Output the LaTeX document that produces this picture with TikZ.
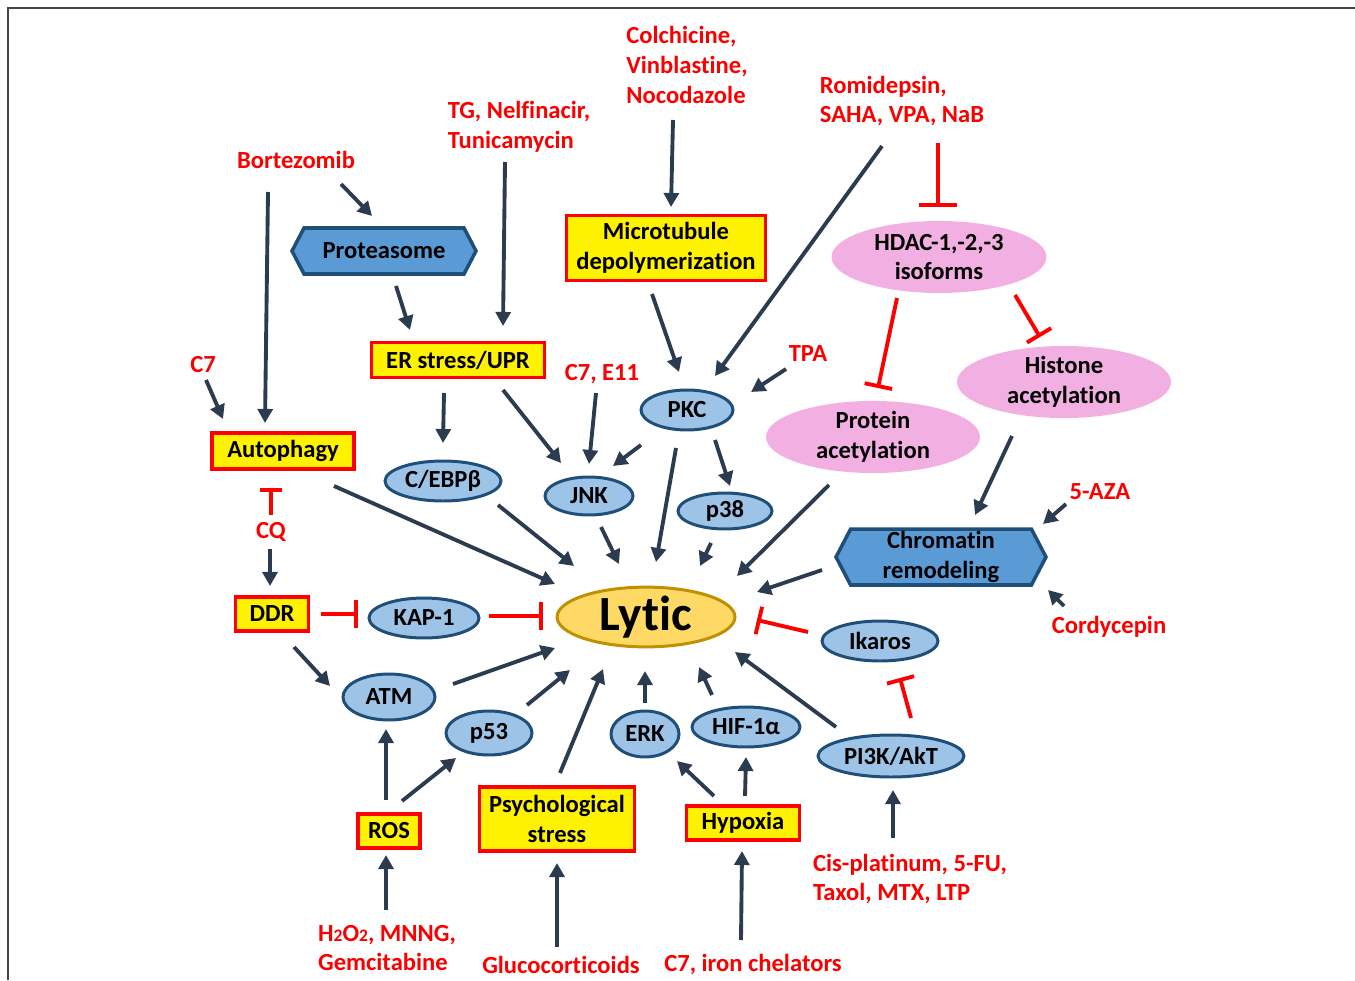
\documentclass[tikz,border=0pt]{standalone}
\usepackage{fontspec}
\setmainfont{Carlito}[Ligatures=NoCommon]
\usetikzlibrary{arrows.meta,shapes.geometric,shapes.symbols,calc}
\definecolor{navy}{RGB}{44,60,80}
\definecolor{drugred}{RGB}{250,0,0}
\definecolor{molfill}{RGB}{157,195,230}
\definecolor{molline}{RGB}{31,78,121}
\definecolor{hexfill}{RGB}{91,155,213}
\definecolor{acetfill}{RGB}{242,176,226}
\definecolor{lyticfill}{RGB}{255,217,102}
\definecolor{lyticline}{RGB}{191,144,0}
\definecolor{framegray}{RGB}{70,70,70}
\newcommand{\labfont}{\fontsize{14}{17}\selectfont\bfseries}
\newcommand{\smalltwo}{{\fontsize{10}{12}\selectfont 2}}

\tikzset{
  arr/.style={draw=navy, line width=2.2pt, -{Triangle[length=8pt,width=8.5pt]}},
  inh/.style={draw=red, line width=2.2pt, -{Bar[width=#1]}},
  inh/.default=16pt,
  drug/.style={text=drugred, font=\labfont, align=left, inner sep=0pt},
  cond/.style={rectangle, draw=red, fill=yellow, line width=2pt, inner sep=0pt, align=center, font=\labfont},
  mol/.style={ellipse, draw=molline, fill=molfill, line width=1.7pt, inner sep=0pt, font=\labfont},
  acet/.style={ellipse, fill=acetfill, inner sep=0pt, align=center, font=\labfont},
  hexa/.style={signal, signal to=west and east, signal pointer angle=125, draw=molline, fill=hexfill,
    line width=2pt, inner sep=0pt, align=center, font=\labfont}
}

\begin{document}
\begin{tikzpicture}[x=0.02cm, y=-0.02cm]
  \useasboundingbox (0,0) rectangle (1355,980);
  \draw[framegray, line width=0.9pt] (8,980) -- (8,8) -- (1355,8);

  % drugs and stimuli
  \node[drug] (bort) at (296,160) {Bortezomib};
  \node[drug] (tg) at (519,127) {TG, Nelfinacir,\\Tunicamycin};
  \node[drug] (colch) at (687,65) {Colchicine,\\Vinblastine,\\Nocodazole};
  \node[drug] (romi) at (902,101) {Romidepsin,\\SAHA, VPA, NaB};
  \node[drug] (c7auto) at (203,365) {C7};
  \node[drug] (tpa) at (808,354) {TPA};
  \node[drug] (c7jnk) at (602,374) {C7, E11};
  \node[drug] (aza) at (1100,492) {5-AZA};
  \node[drug] (cq) at (271,532) {CQ};
  \node[drug] (cord) at (1109,627) {Cordycepin};
  \node[drug] (cis) at (910,879) {Cis-platinum, 5-FU,\\Taxol, MTX, LTP};
  \node[drug] (hoo) at (387,948) {H\smalltwo O\smalltwo, MNNG,\\Gemcitabine};
  \node[drug] (gluc) at (561,965) {Glucocorticoids};
  \node[drug] (c7hyp) at (753,965) {C7, iron chelators};

  % cell conditions
  \node[cond, minimum width=3.98cm, minimum height=1.3cm] (micro) at (666,248) {Microtubule\\depolymerization};
  \node[cond, minimum width=3.46cm, minimum height=0.7cm] (er) at (458,360) {ER stress/UPR};
  \node[cond, minimum width=2.84cm, minimum height=0.72cm] (auto) at (283,451) {Autophagy};
  \node[cond, minimum width=1.46cm, minimum height=0.68cm] (ddr) at (272,614) {DDR};
  \node[cond, minimum width=1.24cm, minimum height=0.68cm] (ros) at (389,831) {ROS};
  \node[cond, minimum width=3.1cm, minimum height=1.28cm] (psych) at (557,819) {Psychological\\stress};
  \node[cond, minimum width=2.26cm, minimum height=0.68cm] (hyp) at (743,823) {Hypoxia};

  % signalling molecules
  \node[mol, minimum width=1.84cm, minimum height=0.8cm] (pkc) at (687,410) {PKC};
  \node[mol, minimum width=2.32cm, minimum height=0.8cm] (cebp) at (443,481) {C/EBPβ};
  \node[mol, minimum width=1.76cm, minimum height=0.76cm] (jnk) at (589,496) {JNK};
  \node[mol, minimum width=1.88cm, minimum height=0.72cm] (p38) at (725,511) {p38};
  \node[mol, minimum width=2.2cm, minimum height=0.8cm] (kap) at (424,618) {KAP-1};
  \node[mol, minimum width=2.32cm, minimum height=0.8cm] (ikaros) at (880,641) {Ikaros};
  \node[mol, minimum width=1.84cm, minimum height=0.92cm] (atm) at (389,697) {ATM};
  \node[mol, minimum width=1.72cm, minimum height=0.88cm] (p53) at (489,733) {p53};
  \node[mol, minimum width=1.36cm, minimum height=0.92cm] (erk) at (645,734) {ERK};
  \node[mol, minimum width=2.16cm, minimum height=0.8cm] (hif) at (746,727) {HIF-1α};
  \node[mol, minimum width=2.92cm, minimum height=0.84cm] (pi3k) at (891,756) {PI3K/AkT};

  % acetylation
  \node[acet, minimum width=4.3cm, minimum height=1.44cm] (hdac) at (939,257) {HDAC-1,-2,-3\\isoforms};
  \node[acet, minimum width=4.28cm, minimum height=1.4cm] (hist) at (1064,382) {Histone\\acetylation};
  \node[acet, minimum width=4.28cm, minimum height=1.4cm] (protac) at (873,437) {Protein\\acetylation};

  \node[hexa, minimum width=3.68cm, minimum height=0.92cm] (prot) at (384,251) {Proteasome};
  \node[hexa, minimum width=4.2cm, minimum height=1.12cm] (chrom) at (941,557) {Chromatin\\remodeling};

  \node[ellipse, draw=lyticline, fill=lyticfill, line width=1.7pt, inner sep=0pt,
    minimum width=3.56cm, minimum height=1.16cm, font=\fontsize{28}{30}\selectfont\bfseries] (lytic) at (646,617) {Lytic};

  % activating arrows
  \draw[arr] ($(bort)+(45,24)$) -- ($(prot)+(-12,-35)$);
  \draw[arr] ($(bort)+(-28,32)$) -- ($(auto)+(-18,-28)$);
  \draw[arr] ($(prot)+(12,35)$) -- ($(er)+(-48,-30)$);
  \draw[arr] ($(tg)+(-14,35)$) -- ($(er)+(45,-34)$);
  \draw[arr] ($(colch)+(-14,55)$) -- ($(micro)+(5,-41)$);
  \draw[arr] ($(romi)+(-20,45)$) -- ($(pkc)+(28,-34)$);
  \draw[arr] ($(micro)+(-14,46)$) -- ($(pkc)+(-8,-38)$);
  \draw[arr] ($(tpa)+(-22,15)$) -- ($(pkc)+(64,-18)$);
  \draw[arr] ($(c7auto)+(3,15)$) -- ($(auto)+(-60,-32)$);
  \draw[arr] ($(er)+(-14,33)$) -- ($(cebp)+(0,-38)$);
  \draw[arr] ($(er)+(45,30)$) -- ($(jnk)+(-28,-33)$);
  \draw[arr] ($(c7jnk)+(-6,19)$) -- ($(jnk)+(0,-32)$);
  \draw[arr] ($(pkc)+(-46,35)$) -- ($(jnk)+(24,-30)$);
  \draw[arr] ($(pkc)+(28,30)$) -- ($(p38)+(5,-25)$);
  \draw[arr] ($(pkc)+(-11,38)$) -- ($(lytic)+(10,-55)$);
  \draw[arr] ($(hist)+(-52,54)$) -- ($(chrom)+(34,-42)$);
  \draw[arr] ($(aza)+(-34,12)$) -- ($(chrom)+(102,-33)$);
  \draw[arr] ($(cord)+(-45,-21)$) -- ($(chrom)+(107,33)$);
  \draw[arr] ($(cq)+(-1,17)$) -- ($(ddr)+(-2,-28)$);
  \draw[arr] ($(auto)+(51,35)$) -- ($(lytic)+(-91,-33)$);
  \draw[arr] ($(cebp)+(55,24)$) -- ($(lytic)+(-72,-51)$);
  \draw[arr] ($(jnk)+(12,31)$) -- ($(lytic)+(-27,-53)$);
  \draw[arr] ($(p38)+(-14,32)$) -- ($(lytic)+(54,-51)$);
  \draw[arr] ($(protac)+(-44,48)$) -- ($(lytic)+(91,-41)$);
  \draw[arr] ($(chrom)+(-119,13)$) -- ($(lytic)+(111,-25)$);
  \draw[arr] ($(ddr)+(22,33)$) -- ($(atm)+(-59,-11)$);
  \draw[arr] ($(atm)+(64,-13)$) -- ($(lytic)+(-91,31)$);
  \draw[arr] ($(p53)+(38,-28)$) -- ($(lytic)+(-76,53)$);
  \draw[arr] ($(psych)+(3,-46)$) -- ($(lytic)+(-43,52)$);
  \draw[arr] ($(erk)+(0,-31)$) -- ($(lytic)+(-1,54)$);
  \draw[arr] ($(hif)+(-34,-32)$) -- ($(lytic)+(53,50)$);
  \draw[arr] ($(pi3k)+(-55,-29)$) -- ($(lytic)+(89,35)$);
  \draw[arr] ($(ros)+(-3,-31)$) -- ($(atm)+(-3,32)$);
  \draw[arr] ($(ros)+(13,-30)$) -- ($(p53)+(-33,25)$);
  \draw[arr] ($(hyp)+(-29,-27)$) -- ($(erk)+(32,27)$);
  \draw[arr] ($(hyp)+(2,-27)$) -- ($(hif)+(0,30)$);
  \draw[arr] ($(cis)+(-17,-41)$) -- ($(pi3k)+(2,34)$);
  \draw[arr] ($(hoo)+(-1,-38)$) -- ($(ros)+(-3,24)$);
  \draw[arr] ($(gluc)+(-4,-18)$) -- ($(psych)+(0,44)$);
  \draw[arr] ($(c7hyp)+(-12,-25)$) -- ($(hyp)+(-1,28)$);

  % inhibitions
  \draw[inh=22pt] ($(romi)+(36,42)$) -- ($(hdac)+(-1,-50)$);
  \draw[inh] ($(hdac)+(-42,41)$) -- ($(protac)+(5,-49)$);
  \draw[inh] ($(hdac)+(76,38)$) -- ($(hist)+(-24,-45)$);
  \draw[inh=13pt] ($(cq)+(0,-17)$) -- ($(auto)+(-12,37)$);
  \draw[inh] ($(ddr)+(49,0)$) -- ($(kap)+(-66,-4)$);
  \draw[inh] ($(kap)+(65,-2)$) -- ($(lytic)+(-103,-1)$);
  \draw[inh] ($(ikaros)+(-72,-9)$) -- ($(lytic)+(111,3)$);
  \draw[inh] ($(pi3k)+(20,-38)$) -- ($(ikaros)+(20,37)$);
\end{tikzpicture}
\end{document}
